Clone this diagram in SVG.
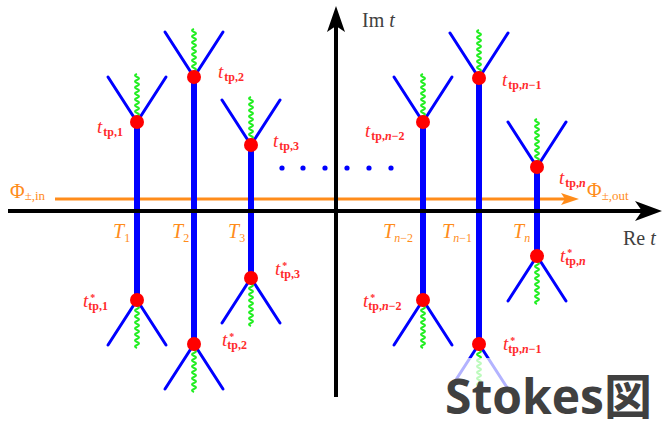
<svg xmlns="http://www.w3.org/2000/svg" width="663" height="423" viewBox="0 0 663 423">
<style>
.stokes{stroke:#0000ff;stroke-width:6;fill:none}
.arm{stroke:#0000ff;stroke-width:3;stroke-linecap:round;fill:none}
.wave{stroke:#22ee22;stroke-width:2;fill:none}
.tp{fill:#ff0000}
.lbl{font-family:"Liberation Serif",serif;fill:#ff2a2a;font-size:19px}
.it{font-style:italic}
.sub{font-size:12px;font-weight:bold}
.star{font-size:10px;font-weight:bold}
.tl{font-family:"Liberation Serif",serif;fill:#ff8c1a;font-size:20px}
.ax{font-family:"Liberation Serif",serif;fill:#404040;font-size:20px}
.dot{fill:#0000ff}
.axis{stroke:#000;stroke-width:4;fill:none}
</style>
<defs>
<path id="wave" class="wave" d="M0,0q4,-1.5 0,-3t0,-3t0,-3t0,-3t0,-3t0,-3t0,-3t0,-3t0,-3t0,-3t0,-3t0,-3t0,-3t0,-3t0,-3t0,-3"/>
<g id="br"><path class="arm" d="M-29,-45L0,0L29,-45"/><use href="#wave"/></g>
</defs>
<rect width="663" height="423" fill="#fff"/>

<g id="connectors">
<line x1="55" y1="199" x2="566" y2="199" stroke="#ff8c1a" stroke-width="3"/>
<polygon points="579,199 561,193 565,199 561,205" fill="#ff8c1a"/>
<line class="stokes" x1="137" y1="122" x2="137" y2="300"/>
<line class="stokes" x1="194" y1="77" x2="194" y2="344"/>
<line class="stokes" x1="251" y1="145" x2="251" y2="278"/>
<line class="stokes" x1="423" y1="122" x2="423" y2="300"/>
<line class="stokes" x1="479" y1="78" x2="479" y2="344"/>
<line class="stokes" x1="537" y1="167" x2="537" y2="256"/>
<line class="axis" x1="8" y1="211" x2="642" y2="211"/>
<polygon points="662,211 635,201 642,211 635,221" fill="#000"/>
<line class="axis" x1="336" y1="397" x2="336" y2="26"/>
<polygon points="336,6 327,32 336,26 345,32" fill="#000"/>
</g>

<g id="axis-labels">
<text class="ax" x="362" y="27">Im <tspan class="it">t</tspan></text>
<text class="ax" x="623" y="245">Re <tspan class="it">t</tspan></text>
<text class="tl" x="10" y="198">Φ<tspan font-size="13" dy="2">±,in</tspan></text>
<text class="tl" x="587" y="197">Φ<tspan font-size="13" dy="3">±,out</tspan></text>
</g>

<g id="T-labels">
<text class="tl" x="113" y="238"><tspan class="it">T</tspan><tspan font-size="12" dy="4">1</tspan></text>
<text class="tl" x="172" y="238"><tspan class="it">T</tspan><tspan font-size="12" dy="4">2</tspan></text>
<text class="tl" x="228" y="238"><tspan class="it">T</tspan><tspan font-size="12" dy="4">3</tspan></text>
<text class="tl" x="383" y="238"><tspan class="it">T</tspan><tspan font-size="12" dy="4"><tspan class="it">n</tspan>−2</tspan></text>
<text class="tl" x="442" y="238"><tspan class="it">T</tspan><tspan font-size="12" dy="4"><tspan class="it">n</tspan>−1</tspan></text>
<text class="tl" x="513" y="238"><tspan class="it">T</tspan><tspan font-size="12" dy="4" class="it">n</tspan></text>
</g>

<g id="dots">
<circle class="dot" cx="282" cy="168" r="2.6"/>
<circle class="dot" cx="303" cy="168" r="2.6"/>
<circle class="dot" cx="325" cy="168" r="2.6"/>
<circle class="dot" cx="347" cy="168" r="2.6"/>
<circle class="dot" cx="369" cy="168" r="2.6"/>
<circle class="dot" cx="391" cy="168" r="2.6"/>
</g>

<g id="tp1">
<use href="#br" transform="translate(137,122)"/>
<circle class="tp" cx="137" cy="122" r="7"/>
<text class="lbl" x="97" y="133"><tspan class="it">t</tspan><tspan class="sub" dx="1" dy="3">tp,1</tspan></text>
</g>
<g id="tp2">
<use href="#br" transform="translate(194,77)"/>
<circle class="tp" cx="194" cy="77" r="7"/>
<text class="lbl" x="218" y="78"><tspan class="it">t</tspan><tspan class="sub" dx="1" dy="3">tp,2</tspan></text>
</g>
<g id="tp3">
<use href="#br" transform="translate(251,145)"/>
<circle class="tp" cx="251" cy="145" r="7"/>
<text class="lbl" x="273" y="147"><tspan class="it">t</tspan><tspan class="sub" dx="1" dy="3">tp,3</tspan></text>
</g>
<g id="tpn2">
<use href="#br" transform="translate(423,122)"/>
<circle class="tp" cx="423" cy="122" r="7"/>
<text class="lbl" x="365" y="137"><tspan class="it">t</tspan><tspan class="sub" dx="1" dy="3">tp,<tspan class="it">n</tspan>−2</tspan></text>
</g>
<g id="tpn1">
<use href="#br" transform="translate(479,78)"/>
<circle class="tp" cx="479" cy="78" r="7"/>
<text class="lbl" x="502" y="86"><tspan class="it">t</tspan><tspan class="sub" dx="1" dy="3">tp,<tspan class="it">n</tspan>−1</tspan></text>
</g>
<g id="tpn">
<use href="#br" transform="translate(537,167)"/>
<circle class="tp" cx="537" cy="167" r="7"/>
<text class="lbl" x="559" y="184"><tspan class="it">t</tspan><tspan class="sub" dx="1" dy="3">tp,<tspan class="it">n</tspan></tspan></text>
</g>

<g id="tp1c">
<use href="#br" transform="translate(137,300) scale(1,-1)"/>
<circle class="tp" cx="137" cy="300" r="7"/>
<text class="lbl" x="83" y="307"><tspan class="it">t</tspan><tspan class="star" dx="2" dy="-6">*</tspan><tspan class="sub" dx="-7" dy="9">tp,1</tspan></text>
</g>
<g id="tp2c">
<use href="#br" transform="translate(194,344) scale(1,-1)"/>
<circle class="tp" cx="194" cy="344" r="7"/>
<text class="lbl" x="222" y="346"><tspan class="it">t</tspan><tspan class="star" dx="2" dy="-6">*</tspan><tspan class="sub" dx="-7" dy="9">tp,2</tspan></text>
</g>
<g id="tp3c">
<use href="#br" transform="translate(251,278) scale(1,-1)"/>
<circle class="tp" cx="251" cy="278" r="7"/>
<text class="lbl" x="275" y="275"><tspan class="it">t</tspan><tspan class="star" dx="2" dy="-6">*</tspan><tspan class="sub" dx="-7" dy="9">tp,3</tspan></text>
</g>
<g id="tpn2c">
<use href="#br" transform="translate(423,300) scale(1,-1)"/>
<circle class="tp" cx="423" cy="300" r="7"/>
<text class="lbl" x="363" y="307"><tspan class="it">t</tspan><tspan class="star" dx="2" dy="-6">*</tspan><tspan class="sub" dx="-7" dy="9">tp,<tspan class="it">n</tspan>−2</tspan></text>
</g>
<g id="tpn1c">
<use href="#br" transform="translate(479,344) scale(1,-1)"/>
<circle class="tp" cx="479" cy="344" r="7"/>
<text class="lbl" x="503" y="350"><tspan class="it">t</tspan><tspan class="star" dx="2" dy="-6">*</tspan><tspan class="sub" dx="-7" dy="9">tp,<tspan class="it">n</tspan>−1</tspan></text>
</g>
<g id="tpnc">
<use href="#br" transform="translate(537,256) scale(1,-1)"/>
<circle class="tp" cx="537" cy="256" r="7"/>
<text class="lbl" x="560" y="262"><tspan class="it">t</tspan><tspan class="star" dx="2" dy="-6">*</tspan><tspan class="sub" dx="-7" dy="9">tp,<tspan class="it">n</tspan></tspan></text>
</g>

<g id="watermark">
<rect x="440" y="358" width="223" height="65" fill="#fff" fill-opacity="0.7"/>
<text x="445" y="414" font-family="'Open Sans','Noto Sans CJK JP',sans-serif" font-weight="bold" font-size="48" fill="#404040">Stokes図</text>
</g>
</svg>
